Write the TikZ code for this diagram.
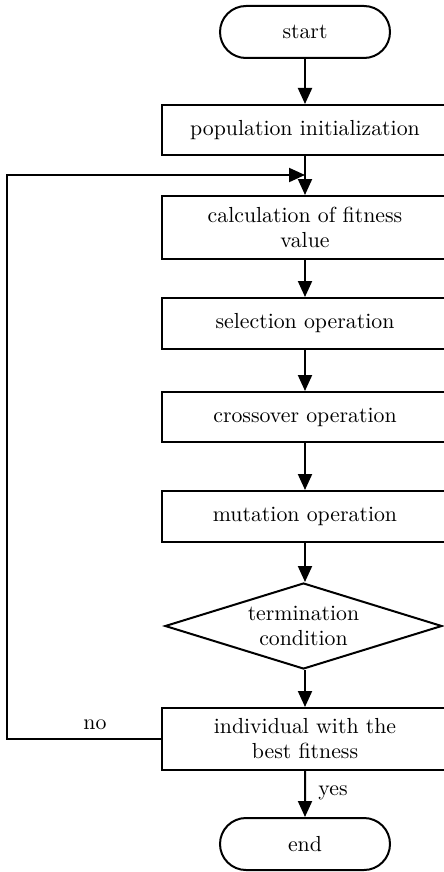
\documentclass[tikz,border=0pt]{standalone}
\usetikzlibrary{shapes.geometric,shapes.misc,arrows.meta}
\begin{document}
\begin{tikzpicture}[x=0.5pt,y=-0.5pt,
  every node/.style={font=\fontsize{10.9}{12.5}\selectfont, align=center},
  proc/.style={draw, line width=1pt, rectangle, minimum width=143pt, inner sep=0pt},
  term/.style={draw, line width=1pt, rounded rectangle, minimum width=85pt, minimum height=26pt, inner sep=0pt},
  dec/.style={draw, line width=1pt, diamond, aspect=3.2, minimum width=138.5pt, minimum height=43pt, inner sep=0pt},
  flow/.style={line width=1pt, -{Triangle[width=7pt,length=8pt]}},
  lbl/.style={inner sep=0pt}]
\clip (0,0) rectangle (444,872);
\node[term] (start) at (305,32) {start};
\node[proc, minimum height=25pt] (pop) at (305,130) {population initialization};
\node[proc, minimum height=31.5pt] (calc) at (305,227.5) {calculation of fitness\\value};
\node[proc, minimum height=25.5pt] (sel) at (305,323.5) {selection operation};
\node[proc, minimum height=25pt] (cross) at (305,417) {crossover operation};
\node[proc, minimum height=25.5pt] (mut) at (305,516.5) {mutation operation};
\node[dec] (cond) at (303.5,626) {termination\\condition};
\node[proc, minimum height=31pt] (ind) at (305,739) {individual with the\\best fitness};
\node[term] (end) at (305,844) {end};
\coordinate (merge) at (305,175);
\coordinate (c1) at (7,739);
\coordinate (c2) at (7,175);
\draw[flow] (start) -- (pop);
\draw[flow] (pop) -- (calc);
\draw[flow] (ind.west) -- (c1) -- (c2) -- (merge);
\draw[flow] (calc) -- (sel);
\draw[flow] (sel) -- (cross);
\draw[flow] (cross) -- (mut);
\draw[flow] (mut) -- (cond.north -| mut.south);
\draw[flow] (cond.south -| ind.north) -- (ind);
\draw[flow] (ind) -- (end);
\node[lbl] (no) at (95,725) {no};
\node[lbl] (yes) at (333,793) {yes};
\end{tikzpicture}
\end{document}
